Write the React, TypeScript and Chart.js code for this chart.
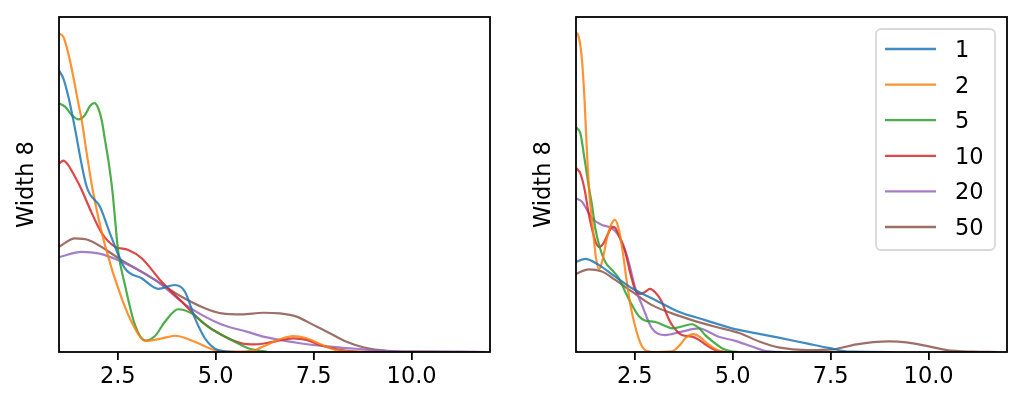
import { useEffect, useRef } from "react";
import { Chart, registerables } from "chart.js";

Chart.register(...registerables);

type Pt = [number, number];

const seriesNames = ["1", "2", "5", "10", "20", "50"];
const seriesColors = [
  "rgba(31,119,180,0.85)",
  "rgba(255,127,14,0.85)",
  "rgba(44,160,44,0.85)",
  "rgba(214,39,40,0.85)",
  "rgba(148,103,189,0.85)",
  "rgba(140,86,75,0.85)",
];
const xTicks = [2.5, 5, 7.5, 10];
const yLabel = "Width 8";

// left panel
const left1: Pt[] = [[1, 8.82], [1.11, 8.58], [1.24, 8.0], [1.365, 7.27], [1.707, 5.18], [2.046, 4.55], [2.3, 3.72], [2.684, 2.62], [3.11, 2.31], [3.533, 1.98], [3.959, 2.1], [4.214, 1.89], [4.469, 1.06], [4.724, 0.43], [5.064, 0.06], [5.49, 0]];
const left2: Pt[] = [[1, 9.98], [1.11, 9.88], [1.237, 9.36], [1.365, 8.63], [1.477, 7.9], [1.579, 7.27], [1.707, 6.23], [1.86, 5.08], [2.173, 3.35], [2.6, 1.68], [2.939, 0.74], [3.2, 0.35], [3.6, 0.42], [3.959, 0.51], [4.469, 0.32], [4.98, 0.06], [5.49, 0.01], [6.0, 0.06], [6.21, 0.17], [6.638, 0.4], [6.977, 0.5], [7.319, 0.43], [7.658, 0.25], [8.084, 0.06], [8.508, 0.01], [8.8, 0]];
const left5: Pt[] = [[1, 7.8], [1.153, 7.69], [1.324, 7.43], [1.492, 7.29], [1.663, 7.43], [1.791, 7.71], [1.901, 7.8], [2.003, 7.64], [2.089, 7.27], [2.173, 6.65], [2.258, 6.02], [2.36, 5.08], [2.513, 3.14], [2.684, 2.1], [2.939, 0.85], [3.2, 0.36], [3.45, 0.5], [3.704, 0.95], [4.043, 1.34], [4.385, 1.21], [4.809, 0.79], [5.319, 0.43], [5.829, 0.12], [6.298, 0.01]];
const left10: Pt[] = [[1, 5.9], [1.11, 6.0], [1.237, 5.86], [1.408, 5.49], [1.579, 5.08], [1.834, 4.36], [2.089, 3.73], [2.429, 3.3], [2.768, 3.2], [3.11, 2.94], [3.62, 2.2], [4.13, 1.58], [4.64, 0.95], [5.151, 0.53], [5.661, 0.27], [6.0, 0.24], [6.467, 0.32], [6.977, 0.43], [7.319, 0.38], [7.658, 0.22], [8.084, 0.085], [8.594, 0.01], [9.189, 0]];
const left20: Pt[] = [[1, 2.97], [1.579, 3.14], [2.003, 3.09], [2.6, 2.83], [3.449, 2.26], [4.298, 1.42], [5.151, 0.86], [5.788, 0.64], [6.212, 0.48], [6.638, 0.38], [7.064, 0.29], [7.487, 0.22], [7.913, 0.17], [8.339, 0.12], [8.763, 0.085], [9.189, 0.04], [10.03, 0.01], [11.9, 0]];
const left50: Pt[] = [[1, 3.3], [1.408, 3.56], [1.747, 3.51], [2.6, 2.88], [3.449, 2.26], [4.13, 1.73], [4.724, 1.37], [5.151, 1.21], [5.661, 1.18], [6.212, 1.23], [6.638, 1.21], [7.064, 1.11], [7.487, 0.85], [7.913, 0.59], [8.339, 0.32], [8.763, 0.15], [9.189, 0.06], [9.615, 0.02], [10.03, 0.01], [11.9, 0]];

// right panel
const right1: Pt[] = [[1, 2.82], [1.237, 2.92], [1.579, 2.73], [2.003, 2.36], [2.429, 2.0], [3.023, 1.63], [3.62, 1.26], [4.298, 1.0], [4.98, 0.74], [5.574, 0.59], [6.171, 0.45], [6.885, 0.27], [7.48, 0.12], [7.99, 0.01], [9.087, 0]];
const right2: Pt[] = [[1, 10.0], [1.05, 9.95], [1.153, 9.15], [1.222, 7.8], [1.281, 6.23], [1.344, 4.92], [1.421, 3.98], [1.51, 2.95], [1.587, 2.6], [1.676, 2.88], [1.791, 3.57], [1.893, 3.98], [1.995, 4.14], [2.097, 3.82], [2.186, 3.2], [2.301, 2.16], [2.403, 1.38], [2.513, 0.79], [2.633, 0.31], [2.768, 0.06], [3.015, 0], [3.449, 0.02], [3.653, 0.22], [3.788, 0.43], [4.003, 0.56], [4.163, 0.47], [4.298, 0.32], [4.469, 0.16], [4.64, 0.05], [4.801, 0]];
const right5: Pt[] = [[1, 7.05], [1.026, 7.01], [1.11, 6.86], [1.222, 6.02], [1.332, 5.14], [1.408, 4.61], [1.492, 3.88], [1.612, 3.26], [1.747, 2.82], [1.918, 2.57], [2.089, 2.32], [2.258, 1.88], [2.429, 1.47], [2.6, 1.13], [2.76, 0.99], [3.023, 0.94], [3.27, 0.82], [3.449, 0.74], [3.704, 0.8], [3.959, 0.87], [4.138, 0.75], [4.298, 0.53], [4.52, 0.3], [4.724, 0.12], [4.929, 0.03], [5.151, 0]];
const right10: Pt[] = [[1, 5.77], [1.11, 5.6], [1.222, 5.08], [1.324, 4.33], [1.408, 3.86], [1.51, 3.42], [1.594, 3.29], [1.707, 3.42], [1.816, 3.7], [1.931, 3.92], [2.003, 3.89], [2.097, 3.64], [2.258, 3.13], [2.378, 2.51], [2.513, 1.94], [2.633, 1.82], [2.76, 1.88], [2.888, 1.98], [3.015, 1.88], [3.194, 1.57], [3.321, 1.16], [3.449, 0.85], [3.704, 0.53], [3.959, 0.48], [4.138, 0.38], [4.298, 0.24], [4.469, 0.11], [4.64, 0.03], [4.801, 0]];
const right20: Pt[] = [[1, 4.82], [1.153, 4.71], [1.408, 4.19], [1.663, 3.98], [1.918, 3.88], [2.173, 3.46], [2.344, 2.83], [2.513, 2.0], [2.684, 1.47], [2.939, 0.74], [3.278, 0.53], [3.704, 0.64], [4.13, 0.74], [4.64, 0.48], [5.064, 0.35], [5.49, 0.17], [5.865, 0.03], [6.281, 0]];
const right50: Pt[] = [[1, 2.45], [1.324, 2.59], [1.663, 2.52], [2.003, 2.26], [2.429, 1.89], [2.939, 1.47], [3.449, 1.21], [3.959, 1.0], [4.554, 0.79], [5.184, 0.59], [5.694, 0.32], [6.204, 0.135], [6.885, 0.06], [7.564, 0.085], [8.161, 0.24], [8.584, 0.31], [9.01, 0.335], [9.436, 0.3], [9.946, 0.19], [10.457, 0.06], [11.135, 0.01], [11.75, 0]];

const leftSeries = [left1, left2, left5, left10, left20, left50];
const rightSeries = [right1, right2, right5, right10, right20, right50];

const FONT = '"DejaVu Sans", sans-serif';

const framePlugin = {
  id: "frame",
  afterDraw(chart: Chart) {
    const { ctx, chartArea } = chart;
    ctx.save();
    ctx.strokeStyle = "#000";
    ctx.lineWidth = 1.8;
    ctx.strokeRect(chartArea.left, chartArea.top, chartArea.right - chartArea.left, chartArea.bottom - chartArea.top);
    ctx.restore();
  },
};

const boxLegendPlugin = {
  id: "boxLegend",
  afterDraw(chart: Chart) {
    const { ctx, chartArea } = chart;
    const right = chartArea.right - 12;
    const left = right - 119;
    const top = chartArea.top + 12;
    ctx.save();
    ctx.fillStyle = "rgba(255,255,255,0.8)";
    ctx.strokeStyle = "#d9d9d9";
    ctx.lineWidth = 1.8;
    ctx.beginPath();
    ctx.roundRect(left, top, 119, 221, 5);
    ctx.fill();
    ctx.stroke();
    chart.data.datasets.forEach((ds, i) => {
      const y = top + 20 + i * 35.6;
      ctx.strokeStyle = ds.borderColor as string;
      ctx.lineWidth = 2.3;
      ctx.beginPath();
      ctx.moveTo(left + 9, y);
      ctx.lineTo(left + 60, y);
      ctx.stroke();
      ctx.fillStyle = "#000";
      ctx.font = `22.5px ${FONT}`;
      ctx.textBaseline = "alphabetic";
      ctx.fillText(String(ds.label), left + 79, y + 8);
    });
    ctx.restore();
  },
};

function Panel({ series, left, axisWidth, rightPad, titlePad, legend }: {
  series: Pt[][]; left: number; axisWidth: number; rightPad: number; titlePad: number; legend: boolean;
}) {
  const canvasRef = useRef<HTMLCanvasElement | null>(null);

  useEffect(() => {
    const canvas = canvasRef.current;
    if (!canvas) return;

    const datasets = series.map((pts, i) => ({
      label: seriesNames[i],
      data: pts.map(([x, y]) => ({ x, y })),
      borderColor: seriesColors[i],
      borderWidth: 2.2,
      pointRadius: 0,
      fill: false,
      cubicInterpolationMode: "monotone" as const,
    }));

    const chart = new Chart(canvas, {
      type: "line",
      data: { datasets },
      options: {
        responsive: false,
        animation: false,
        layout: { padding: { top: 17, right: rightPad, left: 0, bottom: 0 } },
        plugins: { legend: { display: false }, tooltip: { enabled: false } },
        scales: {
          x: {
            type: "linear",
            min: 1,
            max: 12,
            afterBuildTicks: (axis) => {
              axis.ticks = xTicks.map((v) => ({ value: v }));
            },
            afterFit: (axis) => {
              axis.height = 59;
            },
            grid: { display: true, drawOnChartArea: false, drawTicks: true, tickLength: 8, color: "#000", lineWidth: 1.8 },
            border: { display: false },
            ticks: {
              color: "#000",
              font: { family: FONT, size: 22.5 },
              padding: 4,
              maxRotation: 0,
              callback: (v) => Number(v).toFixed(1),
            },
          },
          y: {
            min: 0,
            max: 10.5,
            afterFit: (axis) => {
              axis.width = axisWidth;
            },
            grid: { display: false },
            border: { display: false },
            ticks: { display: false },
            title: { display: true, text: yLabel, color: "#000", font: { family: FONT, size: 22.5 }, padding: { top: titlePad, bottom: 0 } },
          },
        },
      },
      plugins: legend ? [framePlugin, boxLegendPlugin] : [framePlugin],
    });

    return () => chart.destroy();
  }, [series, axisWidth, rightPad, titlePad, legend]);

  return (
    <div style={{ position: "absolute", left, top: 0, width: 512, height: 411 }}>
      <canvas ref={canvasRef} width={512} height={411} />
    </div>
  );
}

export default function App() {
  return (
    <div style={{ position: "absolute", left: 0, top: 0, width: 1024, height: 411, background: "#fff" }}>
      <Panel series={leftSeries} left={0} axisWidth={59} rightPad={22} titlePad={14} legend={false} />
      <Panel series={rightSeries} left={512} axisWidth={64} rightPad={17} titlePad={19} legend={true} />
    </div>
  );
}
